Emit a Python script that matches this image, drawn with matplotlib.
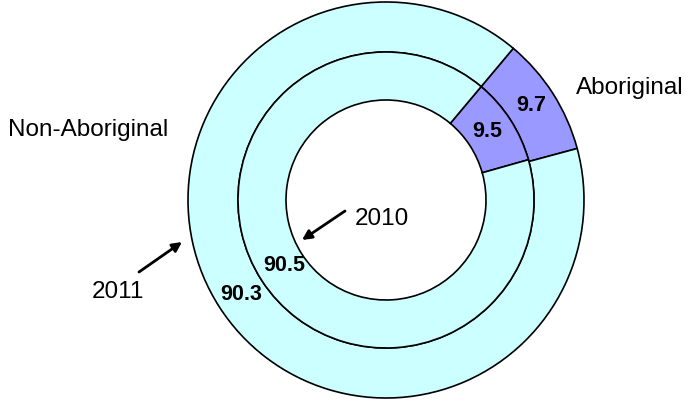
import numpy as np
import matplotlib
matplotlib.use("Agg")
import matplotlib.pyplot as plt

plt.rcParams['font.family'] = ['Liberation Sans', 'DejaVu Sans']

# data (percent)
groups = ['Aboriginal', 'Non-Aboriginal']
share_2011 = [9.7, 90.3]
share_2010 = [9.5, 90.5]
colors = ['#9999FF', '#CCFFFF']

fig = plt.figure(figsize=(6.86, 4.0), dpi=100)
ax = fig.add_axes([0, 0, 1, 1])

cx, cy = 386, 200
r_out, r_mid, r_in = 198, 148, 100
wp = dict(edgecolor='black', linewidth=1.2)

ax.pie(share_2011, colors=colors, startangle=50, counterclock=False,
       radius=r_out, center=(cx, cy), wedgeprops=dict(width=r_out - r_mid, **wp),
       frame=True)
ax.pie(share_2010, colors=colors, startangle=50, counterclock=False,
       radius=r_mid, center=(cx, cy), wedgeprops=dict(width=r_mid - r_in, **wp),
       frame=True)
ax.set_xlim(0, 686)
ax.set_ylim(0, 400)
ax.axis('off')

# value labels
def put(val, ang, rad):
    a = np.deg2rad(ang)
    ax.text(cx + rad * np.cos(a), cy + rad * np.sin(a), f"{val}",
            ha='center', va='center', fontsize=15.5, fontweight='bold')

put(share_2011[0], 33, (r_out + r_mid) / 2)
put(share_2010[0], 34, (r_mid + r_in) / 2 - 2)
put(share_2011[1], 213, (r_out + r_mid) / 2)
put(share_2010[1], 213, (r_mid + r_in) / 2 - 3)

ax.text(88, 270, groups[1], ha='center', va='center', fontsize=17.5)
ax.text(630, 312, groups[0], ha='center', va='center', fontsize=17.5)

arrow = dict(arrowstyle='-|>', color='black', lw=2, shrinkA=0, shrinkB=0,
             mutation_scale=14)
ax.annotate('', xy=(302, 160), xytext=(345, 189), arrowprops=arrow)
ax.annotate('', xy=(182, 158), xytext=(139, 128), arrowprops=arrow)
ax.text(382, 181, '2010', ha='center', va='center', fontsize=17.5)
ax.text(118, 108, '2011', ha='center', va='center', fontsize=17.5)

fig.savefig('out.png', dpi=100)
